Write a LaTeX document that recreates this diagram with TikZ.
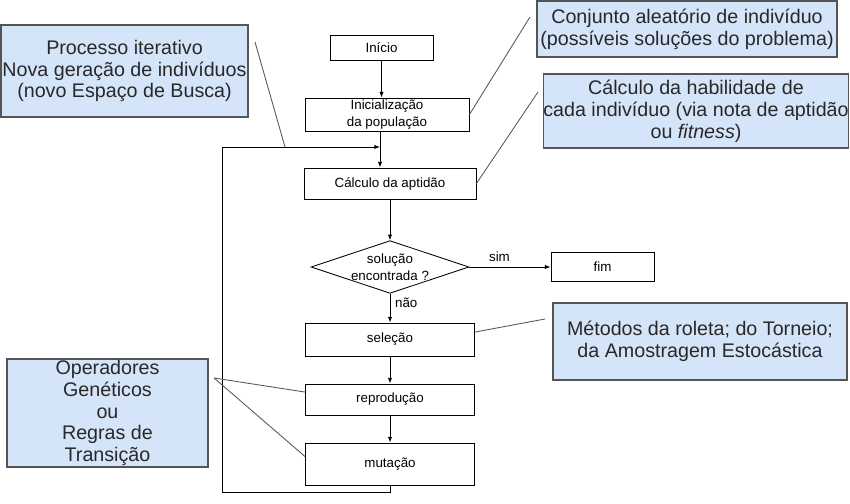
\documentclass[tikz,border=0pt]{standalone}
\usepackage{fontspec}
\setmainfont{Liberation Sans}
\usetikzlibrary{shapes.geometric,arrows.meta}
\definecolor{azul}{RGB}{213,229,249}
\definecolor{borda}{RGB}{85,85,85}
\definecolor{texto}{RGB}{40,40,40}
\tikzset{
  nota/.style={draw=borda,line width=0.9pt,fill=azul,text=texto,align=center,inner sep=0pt,font=\fontsize{14}{15.5}\selectfont},
  passo/.style={draw,line width=0.6pt,align=center,inner sep=0pt,font=\fontsize{9.5}{12.5}\selectfont},
  seta/.style={line width=0.6pt,-{Latex[length=4pt,width=3pt]}},
  fio/.style={draw=borda,line width=0.6pt}
}
\begin{document}
\begin{tikzpicture}[x=0.025cm,y=-0.025cm]
  \useasboundingbox (0,0) rectangle (850,504);
  \node [passo,minimum width=2.575cm,minimum height=0.625cm] (inicio) at (381.5,47.5) {Início};
  \node [passo,minimum width=4.1cm,minimum height=0.825cm] (inic) at (387,114.5) {Inicialização\\da população};
  \node [passo,minimum width=4.3cm,minimum height=0.775cm] (calc) at (390,183.5) {Cálculo da aptidão};
  \node [passo,shape=diamond,aspect=3,minimum width=3.9cm,minimum height=1.275cm,font=\fontsize{9.5}{12}\selectfont] (dec) at (390,267) {solução\\encontrada ?};
  \node [passo,minimum width=2.575cm,minimum height=0.725cm] (fim) at (602.5,267) {fim};
  \node [passo,minimum width=4.225cm,minimum height=0.825cm] (sel) at (390,339.5) {seleção};
  \node [passo,minimum width=4.225cm,minimum height=0.775cm] (repro) at (390,399.5) {reprodução};
  \node [passo,minimum width=4.225cm,minimum height=1.05cm] (mut) at (390,464) {mutação};

  \node [nota,minimum width=6.175cm,minimum height=2.3cm] (iter) at (124.5,71) {Processo iterativo\\Nova geração de indivíduos\\(novo Espaço de Busca)};
  \node [nota,minimum width=7.5cm,minimum height=1.4cm] (conj) at (687,29) {Conjunto aleatório de indivíduo\\(possíveis soluções do problema)};
  \node [nota,minimum width=7.55cm,minimum height=1.85cm] (habil) at (696,111) {Cálculo da habilidade de\\cada indivíduo (via nota de aptidão\\ou \textit{fitness})};
  \node [nota,minimum width=7.35cm,minimum height=1.925cm] (metodos) at (700,341.5) {Métodos da roleta; do Torneio;\\da Amostragem Estocástica};
  \node [nota,minimum width=5.025cm,minimum height=2.7cm] (oper) at (107.5,413) {Operadores\\Genéticos\\ou\\Regras de\\Transição};

  \coordinate (top) at (380,147);
  \coordinate (loop) at (222,492);
  \draw [seta](inicio.south)--(inicio.south |- inic.north);
  \draw [seta](inic.south -| top)--(calc.north -| top);
  \foreach \a/\b in {calc/dec,sel/repro,repro/mut} \draw [seta](\a.south)--(\b.north);
  \draw [seta](dec.south)--(sel.north) node [right,pos=0.3,font=\fontsize{9.5}{11}\selectfont] {não};
  \draw [seta](dec.east)--(fim.west) node [above,pos=0.37,font=\fontsize{9.5}{11}\selectfont] {sim};
  \draw [seta](mut.south) |- (loop) |- (top);

  \coordinate (l1a) at (255,42);
  \coordinate (l1b) at (285,147);
  \coordinate (l2) at (530,17);
  \coordinate (l3) at (538,92);
  \coordinate (l4) at (545,319);
  \coordinate (l5) at (214,378);
  \draw [fio](l1a)--(l1b);
  \draw [fio](inic.east)--(l2);
  \draw [fio](calc.east)--(l3);
  \draw [fio](sel.5)--(l4);
  \foreach \P in {repro,mut} \draw [fio](l5)--(\P.175);
\end{tikzpicture}
\end{document}
